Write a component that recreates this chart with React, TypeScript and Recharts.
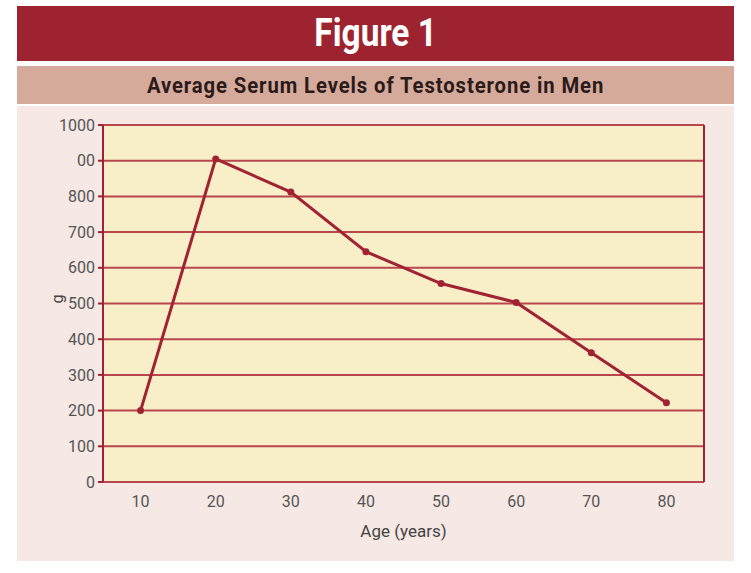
import { LineChart, Line, XAxis, YAxis, CartesianGrid, ReferenceLine } from 'recharts'

const ages = [10, 20, 30, 40, 50, 60, 70, 80]
const testosterone = [200, 905, 812, 645, 556, 503, 362, 222]
const bandEdges = [5, 15, 25, 35, 45, 55, 65, 75, 85]
const yTicks = [0, 100, 200, 300, 400, 500, 600, 700, 800, 900, 1000]
const yTickLabels = ['0', '100', '200', '300', '400', '500', '600', '700', '800', '00', '1000']

const data = ages.map((age, i) => ({ age, value: testosterone[i] }))

const RED = '#a12232'
const GRID = '#b8464f'
const FONT = "Roboto, 'Liberation Sans', sans-serif"

export default function App() {
    return (
        <div style={{ position: 'absolute', left: 0, top: 0, width: 751, height: 573, background: '#ffffff', fontFamily: FONT }}>
            <div style={{
                position: 'absolute', left: 17, top: 6, width: 717, height: 55, background: '#9d2331',
                color: '#fff', fontWeight: 'bold', fontSize: 38, textAlign: 'center', lineHeight: '55px'
            }}>
                <span style={{ display: 'inline-block', transform: 'scaleX(0.88)' }}>Figure 1</span>
            </div>
            <div style={{
                position: 'absolute', left: 17, top: 66, width: 717, height: 38, background: '#d6aa9a',
                color: '#2a1a1a', fontWeight: 'bold', fontSize: 22, textAlign: 'center', lineHeight: '40px', letterSpacing: 1
            }}>
                <span style={{ display: 'inline-block', transform: 'scaleX(0.92)' }}>Average Serum Levels of Testosterone in Men</span>
            </div>
            <div style={{ position: 'absolute', left: 17, top: 106, width: 717, height: 455, background: '#f6e8e5' }}>
                <LineChart width={717} height={455} data={data} margin={{ top: 19, right: 30, bottom: 29, left: 0 }}>
                    <CartesianGrid vertical={false} stroke={GRID} strokeWidth={2} fill="#f8efc9" fillOpacity={1} />
                    <XAxis
                        xAxisId="edges"
                        type="number"
                        dataKey="age"
                        domain={[5, 85]}
                        ticks={bandEdges}
                        height={0}
                        axisLine={{ stroke: RED, strokeWidth: 2 }}
                        tickLine={{ stroke: RED, strokeWidth: 2 }}
                        tickSize={6}
                        tickFormatter={() => ''}
                    />
                    <XAxis
                        type="number"
                        dataKey="age"
                        domain={[5, 85]}
                        ticks={ages}
                        height={50}
                        axisLine={false}
                        tickLine={false}
                        tickMargin={8}
                        tick={{ fill: '#555', fontSize: 16, fontFamily: FONT }}
                        label={{ value: 'Age (years)', position: 'insideBottom', offset: 0, dy: 5, fill: '#444', fontSize: 17, fontFamily: FONT }}
                    />
                    <YAxis
                        type="number"
                        domain={[0, 1000]}
                        ticks={yTicks}
                        width={86}
                        interval={0}
                        axisLine={{ stroke: RED, strokeWidth: 2 }}
                        tickLine={{ stroke: RED, strokeWidth: 2 }}
                        tickSize={5}
                        tickMargin={3}
                        tickFormatter={(v: number) => yTickLabels[yTicks.indexOf(v)]}
                        tick={{ fill: '#555', fontSize: 16, fontFamily: FONT }}
                        label={{ value: 'g', angle: -90, position: 'insideLeft', offset: 40, fill: '#444', fontSize: 16, fontFamily: FONT }}
                    />
                    <ReferenceLine x={85} stroke={RED} strokeWidth={2} />
                    <Line
                        type="linear"
                        dataKey="value"
                        stroke={RED}
                        strokeWidth={3}
                        dot={{ r: 2, fill: RED, stroke: RED }}
                        isAnimationActive={false}
                    />
                </LineChart>
            </div>
        </div>
    )
}
